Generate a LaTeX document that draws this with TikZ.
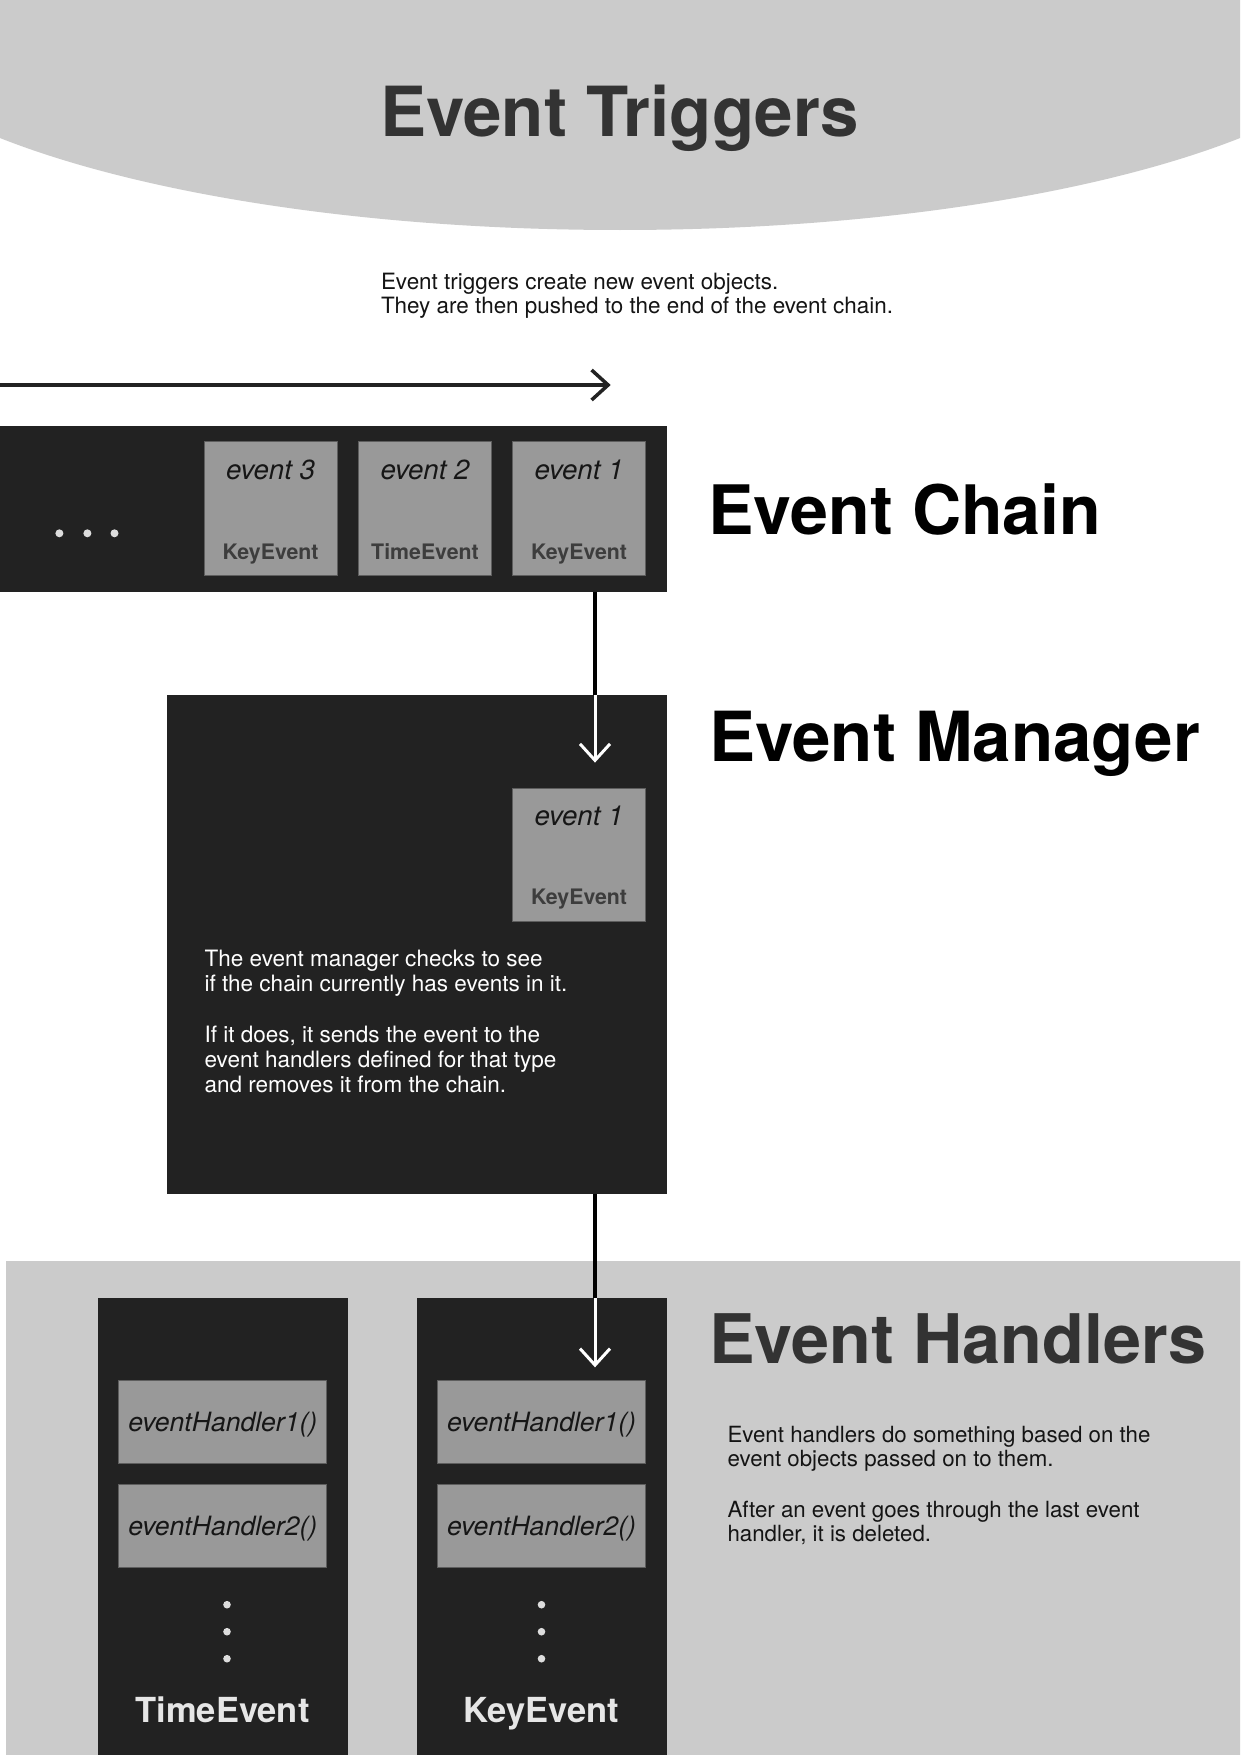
\documentclass[tikz,border=0pt]{standalone}
\usepackage{fontspec}
\setmainfont{TeX Gyre Heros}
\usetikzlibrary{arrows.meta}
\definecolor{bgGray}{HTML}{CBCBCB}
\definecolor{darkC}{HTML}{222222}
\definecolor{evGray}{HTML}{999999}
\definecolor{edgeC}{HTML}{5E5E5E}
\definecolor{titleGray}{HTML}{333333}
\definecolor{labelDark}{HTML}{3D3D3D}
\definecolor{itDark}{HTML}{161616}
\definecolor{colLabel}{HTML}{E6E6E6}
\definecolor{dotC}{HTML}{DDDDDD}
\definecolor{bodyDark}{HTML}{141414}
\newbox\fitbox
\newcommand\fitto[4]{%
  \setbox\fitbox=\hbox{#2\fontsize{10pt}{12pt}\selectfont #3}%
  \pgfmathsetmacro#1{10*#4/\the\wd\fitbox}}
\begin{document}
% font sizes fitted to the reference widths
\fitto\szTrig{\bfseries}{Event Triggers}{479}%
\fitto\szChain{\bfseries}{Event Chain}{393}%
\fitto\szMgr{\bfseries}{Event Manager}{491}%
\fitto\szHand{\bfseries}{Event Handlers}{497}%
\fitto\szBodyA{}{They are then pushed to the end of the event chain.}{512}%
\fitto\szBodyB{}{if the chain currently has events in it.}{363}%
\fitto\szBodyC{}{Event handlers do something based on the}{423}%
\fitto\szEv{\itshape}{event 3}{89}%
\fitto\szKey{\bfseries}{KeyEvent}{96}%
\fitto\szHnd{\itshape}{eventHandler1()}{189}%
\fitto\szCol{\bfseries}{TimeEvent}{174}%
\begin{tikzpicture}[x=1pt,y=-1pt,
  darkbox/.style={fill=darkC, draw=none, inner sep=0pt, outer sep=0pt, anchor=north west},
  evbox/.style={fill=evGray, draw=edgeC, line width=0.8pt, inner sep=0pt, outer sep=0pt,
                minimum width=133pt, minimum height=133.3pt, anchor=north west},
  hbox/.style={fill=evGray, draw=edgeC, line width=0.8pt, inner sep=0pt, outer sep=0pt,
                minimum width=208pt, minimum height=83pt, anchor=north west},
  ttl/.style={inner sep=0pt, outer sep=0pt, anchor=base west, font=\fontsize{#1}{#1}\selectfont\bfseries},
  body/.style={inner sep=0pt, outer sep=0pt, anchor=base west, font=\fontsize{#1}{#1}\selectfont},
  evit/.style={inner sep=0pt, outer sep=0pt, anchor=base, text=itDark, font=\fontsize{\szEv}{\szEv}\selectfont\itshape},
  evkey/.style={inner sep=0pt, outer sep=0pt, anchor=base, text=labelDark, font=\fontsize{\szKey}{\szKey}\selectfont\bfseries},
  hlab/.style={inner sep=0pt, outer sep=0pt, anchor=base, text=itDark, font=\fontsize{\szHnd}{\szHnd}\selectfont\itshape},
  collab/.style={inner sep=0pt, outer sep=0pt, anchor=base, text=colLabel, font=\fontsize{\szCol}{\szCol}\selectfont\bfseries},
  dotnode/.style={circle, fill=dotC, draw=none, inner sep=0pt, minimum size=#1},
  chev/.style={-{Straight Barb[length=16.5pt,width=30pt]}},
  blackline/.style={draw=black, line width=3.5pt},
  whiteline/.style={draw=white, line width=3pt, chev},
]
\useasboundingbox (0,0) rectangle (1240,1755);
\clip (0,0) rectangle (1240,1755);
\fill[white] (0,0) rectangle (1240,1755);

% ---------- Event Triggers ----------
\fill[bgGray] (620,0) ellipse [x radius=775pt, y radius=230pt];
\node[ttl=\szTrig, text=titleGray, anchor=base] (tTrig) at (619.5,136.7) {Event Triggers};
\node[body=\szBodyA, text=bodyDark] (trA) at (381,289.5) {Event triggers create new event objects.};
\node[body=\szBodyA, text=bodyDark] (trB) at (381,313.5) {They are then pushed to the end of the event chain.};

\coordinate (hstart) at (-5,385);
\coordinate (htip) at (610.7,385);
\draw[draw=darkC, line width=3.5pt, chev] (hstart) -- (htip);

% ---------- Event Chain ----------
\node[darkbox, minimum width=666.5pt, minimum height=166pt] (chain) at (0,425.7) {};
\node[dotnode=8pt] (cd1) at (59.4,533.3) {};
\node[dotnode=8pt] (cd2) at (87.4,533.3) {};
\node[dotnode=8pt] (cd3) at (114.5,533.3) {};
\foreach \bx/\nm/\lab/\typ in {204/e3/event 3/KeyEvent, 358.5/e2/event 2/TimeEvent, 512.5/e1/event 1/KeyEvent}{
  \node[evbox] (\nm) at (\bx,441.7) {};
  \node[evit] (\nm t) at ([yshift=-37.3pt]\nm.north) {\lab};
  \node[evkey] (\nm k) at ([yshift=-117.5pt]\nm.north) {\typ};
}
\node[ttl=\szChain, text=black] (tChain) at (708.5,534) {Event Chain};

% ---------- Event Manager ----------
\node[darkbox, minimum width=500pt, minimum height=499.3pt] (mgr) at (166.5,694.5) {};
\node[evbox] (m1) at (512.5,788) {};
\node[evit] (m1t) at ([yshift=-37.3pt]m1.north) {event 1};
\node[evkey] (m1k) at ([yshift=-116.5pt]m1.north) {KeyEvent};
\node[ttl=\szMgr, text=black] (tMgr) at (709,761) {Event Manager};
\node[body=\szBodyB, text=white] (mA) at (204.5,966.8) {The event manager checks to see};
\node[body=\szBodyB, text=white] (mB) at (204.5,991.8) {if the chain currently has events in it.};
\node[body=\szBodyB, text=white] (mC) at (204.5,1042) {If it does, it sends the event to the};
\node[body=\szBodyB, text=white] (mD) at (204.5,1067) {event handlers defined for that type};
\node[body=\szBodyB, text=white] (mE) at (204.5,1092) {and removes it from the chain.};

\coordinate (tip1) at (595,762.6);
\draw[blackline] (chain.south -| tip1) -- (mgr.north -| tip1);
\draw[whiteline] (mgr.north -| tip1) -- (tip1);

% ---------- Event Handlers ----------
\node[fill=bgGray, draw=none, inner sep=0pt, outer sep=0pt, anchor=north west,
      minimum width=1240pt, minimum height=500pt] (hbg) at (6,1261) {};
\node[darkbox, minimum width=249.6pt, minimum height=470pt] (timecol) at (98.2,1298.3) {};
\node[darkbox, minimum width=250pt, minimum height=470pt] (keycol) at (416.5,1298.3) {};

\node[hbox] (th1) at (118.8,1380) {};
\node[hbox] (th2) at (118.8,1484) {};
\node[hbox] (kh1) at (437.5,1380) {};
\node[hbox] (kh2) at (437.5,1484) {};
\node[hlab] (th1t) at ([yshift=-10pt]th1.center) {eventHandler1()};
\node[hlab] (th2t) at ([yshift=-10pt]th2.center) {eventHandler2()};
\node[hlab] (kh1t) at ([yshift=-10pt]kh1.center) {eventHandler1()};
\node[hlab] (kh2t) at ([yshift=-10pt]kh2.center) {eventHandler2()};

\node[dotnode=7.6pt] (td1) at (227,1604.7) {};
\node[dotnode=7.6pt] (td2) at (227,1631.7) {};
\node[dotnode=7.6pt] (td3) at (227,1658.7) {};
\node[dotnode=7.6pt] (kd1) at (541.5,1604.7) {};
\node[dotnode=7.6pt] (kd2) at (541.5,1631.7) {};
\node[dotnode=7.6pt] (kd3) at (541.5,1658.7) {};

\node[collab] (tlab) at (222.5,1722.7) {TimeEvent};
\node[collab] (klab) at (541.3,1722.7) {KeyEvent};

\node[ttl=\szHand, text=titleGray] (tHand) at (709,1363.3) {Event Handlers};
\node[body=\szBodyC, text=bodyDark] (hA) at (727.5,1442.7) {Event handlers do something based on the};
\node[body=\szBodyC, text=bodyDark] (hB) at (727.5,1466.7) {event objects passed on to them.};
\node[body=\szBodyC, text=bodyDark] (hC) at (727.5,1517.7) {After an event goes through the last event};
\node[body=\szBodyC, text=bodyDark] (hD) at (727.5,1541.7) {handler, it is deleted.};

\coordinate (tip2) at (595,1367.3);
\draw[blackline] (mgr.south -| tip2) -- (keycol.north -| tip2);
\draw[whiteline] (keycol.north -| tip2) -- (tip2);
\end{tikzpicture}
\end{document}
